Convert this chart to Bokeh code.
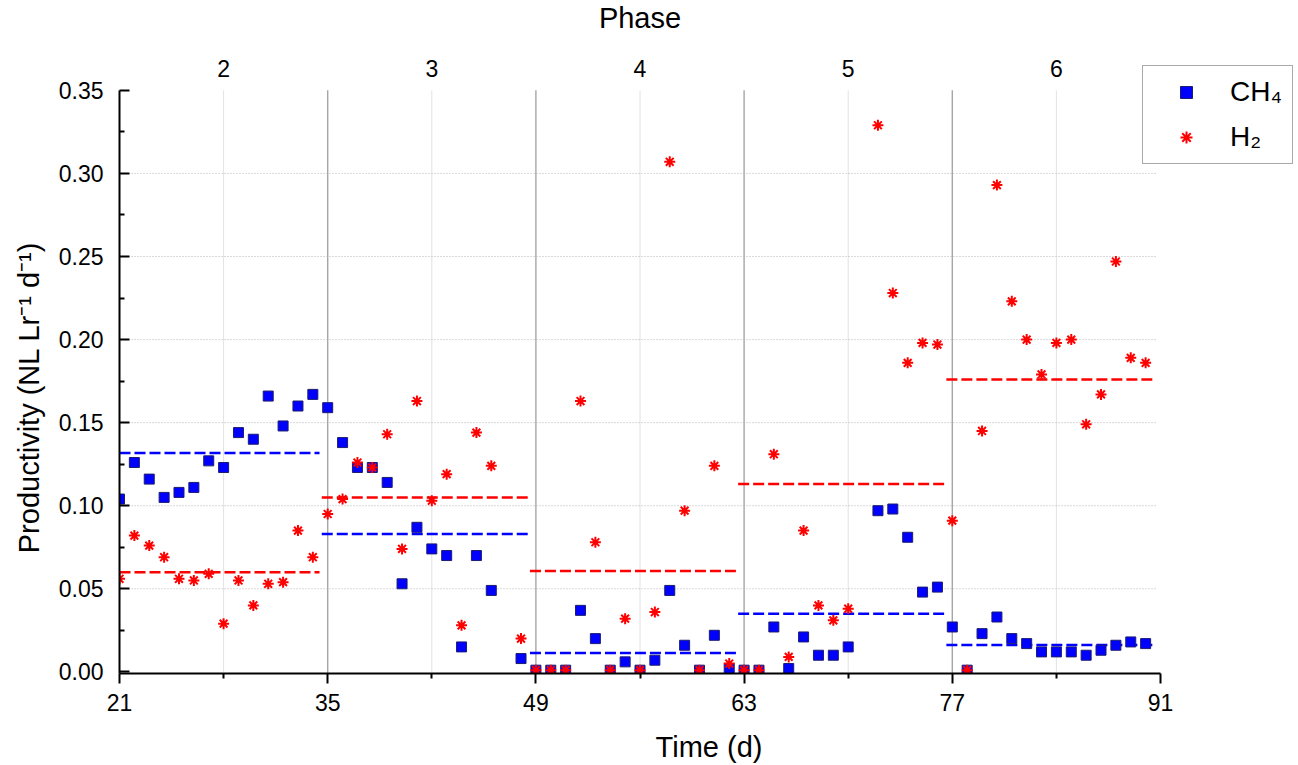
from bokeh.plotting import figure
from bokeh.models import (Range1d, FixedTicker, Legend, LegendItem,
                          PrintfTickFormatter, ColumnDataSource)
from bokeh.core.properties import value
from bokeh.embed import file_html
from bokeh.resources import INLINE

# ---------------- data ----------------
days = [21, 22, 23, 24, 25, 26, 27, 28, 29, 30, 31, 32, 33, 34,
        35, 36, 37, 38, 39, 40, 41, 42, 43, 44, 45, 46, 48,
        49, 50, 51, 52, 53, 54, 55, 56, 57, 58, 59, 60, 61, 62,
        63, 64, 65, 66, 67, 68, 69, 70, 72, 73, 74, 75, 76,
        77, 78, 79, 80, 81, 82, 83, 84, 85, 86, 87, 88, 89, 90]

ch4 = [0.104, 0.126, 0.116, 0.105, 0.108, 0.111, 0.127, 0.123, 0.144, 0.140, 0.166, 0.148, 0.160, 0.167,
       0.159, 0.138, 0.123, 0.123, 0.114, 0.053, 0.087, 0.074, 0.070, 0.015, 0.070, 0.049, 0.008,
       0.001, 0.001, 0.001, 0.037, 0.020, 0.001, 0.006, 0.001, 0.007, 0.049, 0.016, 0.001, 0.022, 0.002,
       0.001, 0.001, 0.027, 0.002, 0.021, 0.010, 0.010, 0.015, 0.097, 0.098, 0.081, 0.048, 0.051,
       0.027, 0.001, 0.023, 0.033, 0.020, 0.017, 0.012, 0.012, 0.012, 0.010, 0.013, 0.016, 0.018, 0.017]

h2 = [0.056, 0.082, 0.076, 0.069, 0.056, 0.055, 0.059, 0.029, 0.055, 0.040, 0.053, 0.054, 0.085, 0.069,
      0.095, 0.104, 0.126, 0.123, 0.143, 0.074, 0.163, 0.103, 0.119, 0.028, 0.144, 0.124, 0.020,
      0.001, 0.001, 0.001, 0.163, 0.078, 0.001, 0.032, 0.001, 0.036, 0.307, 0.097, 0.001, 0.124, 0.005,
      0.001, 0.001, 0.131, 0.009, 0.085, 0.040, 0.031, 0.038, 0.329, 0.228, 0.186, 0.198, 0.197,
      0.091, 0.001, 0.145, 0.293, 0.223, 0.200, 0.179, 0.198, 0.200, 0.149, 0.167, 0.247, 0.189, 0.186]

phase_title = "Phase"
phase_names = ["2", "3", "4", "5", "6"]
phase_start = [21, 35, 49, 63, 77]
ch4_mean = [0.1317, 0.083, 0.0114, 0.035, 0.0162]
h2_mean = [0.060, 0.105, 0.0607, 0.1131, 0.176]

x_ticks = [21, 35, 49, 63, 77, 91]
y_ticks = [0.00, 0.05, 0.10, 0.15, 0.20, 0.25, 0.30, 0.35]

x_title = "Time (d)"
y_title = "Productivity (NL Lr\u207b\u00b9 d\u207b\u00b9)"

# ---------------- layout (pixels) ----------------
FONT = "Liberation Sans"
W, H = 1298, 765
FL, FB = 119, 674            # frame left / bottom in figure pixels
AX_R, AX_T = 1160, 90        # where x=91 and y=0.35 fall
y_lo = -0.001
sx = (AX_R - FL) / (x_ticks[-1] - x_ticks[0])
sy = (FB - AX_T) / (y_ticks[-1] - y_lo)
x_end = x_ticks[0] + (W - FL) / sx
y_end = y_ticks[-1] + AX_T / sy

p = figure(width=W, height=H,
           x_range=Range1d(x_ticks[0], x_end), y_range=Range1d(y_lo, y_end),
           output_backend="svg", toolbar_location=None,
           min_border_left=FL, min_border_right=0,
           min_border_top=0, min_border_bottom=H - FB)
p.outline_line_color = None
p.background_fill_color = "white"
p.border_fill_color = "white"
p.xgrid.visible = False
p.ygrid.visible = False

phase_mid = [s + 7 for s in phase_start]
boundaries = phase_start[1:]
x_minor = [(a + b) / 2 for a, b in zip(x_ticks[:-1], x_ticks[1:])]
y_minor = [(a + b) / 2 for a, b in zip(y_ticks[:-1], y_ticks[1:])]

# grid lines (bounded to the data area)
p.segment(x0=phase_mid, x1=phase_mid, y0=[y_ticks[0]] * 5, y1=[y_ticks[-1]] * 5,
          line_color="#e2e2e2", line_width=1)
p.segment(x0=boundaries, x1=boundaries, y0=[y_lo] * 4, y1=[y_ticks[-1]] * 4,
          line_color="#a6a6a6", line_width=1.4)
hy = y_ticks[1:-1]
p.segment(x0=[x_ticks[0]] * len(hy), x1=[x_ticks[-1] - 0.2] * len(hy), y0=hy, y1=hy,
          line_color="#b4b4b4", line_width=1, line_dash="1 2")

# bottom axis
xa = p.xaxis[0]
xa.bounds = (x_ticks[0], x_ticks[-1])
xa.ticker = FixedTicker(ticks=x_ticks, minor_ticks=x_minor)
xa.axis_label = x_title
xa.axis_line_width = 2
xa.axis_line_color = "black"
xa.major_tick_out = 10
xa.major_tick_in = 0
xa.minor_tick_out = 5
xa.minor_tick_in = 0
xa.major_tick_line_width = 2
xa.minor_tick_line_width = 2
xa.major_label_text_font = FONT
xa.major_label_text_font_size = "23px"
xa.major_label_text_color = "black"
xa.major_label_text_line_height = 1.0
xa.major_label_standoff = 10
xa.axis_label_text_font = FONT
xa.axis_label_text_font_size = "29px"
xa.axis_label_text_font_style = "normal"
xa.axis_label_text_color = "black"
xa.axis_label_text_line_height = 1.0
xa.axis_label_standoff = 17

# left axis (label padded with no-break spaces so it sits centred on the data area)
ya = p.yaxis[0]
ya.bounds = (y_lo, y_ticks[-1])
ya.ticker = FixedTicker(ticks=y_ticks, minor_ticks=y_minor)
ya.formatter = PrintfTickFormatter(format="%.2f")
ya.axis_label = y_title + "\u00a0" * 15
ya.axis_line_width = 2
ya.axis_line_color = "black"
ya.major_tick_out = 0
ya.major_tick_in = 10
ya.minor_tick_out = 0
ya.minor_tick_in = 5
ya.major_tick_line_width = 2
ya.minor_tick_line_width = 2
ya.major_label_text_font = FONT
ya.major_label_text_font_size = "23px"
ya.major_label_text_color = "black"
ya.major_label_standoff = 16
ya.axis_label_text_font = FONT
ya.axis_label_text_font_size = "29px"
ya.axis_label_text_font_style = "normal"
ya.axis_label_text_color = "black"
ya.axis_label_standoff = 11

# phase header (text above the data area)
p.text(x=phase_mid, y=[y_ticks[-1]] * len(phase_mid), text=phase_names,
       text_font=value(FONT), text_font_size="23px", text_color="black",
       text_align="center", text_baseline="middle", y_offset=-22)
p.text(x=[(x_ticks[0] + x_ticks[-1]) / 2], y=[y_ticks[-1]], text=[phase_title],
       text_font=value(FONT), text_font_size="29px", text_color="black",
       text_align="center", text_baseline="middle", y_offset=-72)

# mean lines per phase
x0 = [max(x_ticks[0], s - 0.4) for s in phase_start]
x1 = [s + 13.45 for s in phase_start]
src_mean = ColumnDataSource(dict(x0=x0, x1=x1, ch4=ch4_mean, h2=h2_mean))
p.segment(x0="x0", x1="x1", y0="ch4", y1="ch4", source=src_mean,
          line_color="#0000ff", line_width=2.5, line_dash="11 4")
p.segment(x0="x0", x1="x1", y0="h2", y1="h2", source=src_mean,
          line_color="#ff0000", line_width=2.5, line_dash="11 4")

# points
src = ColumnDataSource(dict(d=days, ch4=ch4, h2=h2))
r_ch4 = p.scatter("d", "ch4", source=src, marker="square", size=10,
                  fill_color="#0000ff", line_color="#1c1c70", line_width=1)
r_h2 = p.scatter("d", "h2", source=src, marker="asterisk", size=11,
                 line_color="#ff0000", line_width=2)

# legend
legend = Legend(items=[LegendItem(label="CH\u2084", renderers=[r_ch4]),
                       LegendItem(label="H\u2082", renderers=[r_h2])],
                location=(1142 - FL, FB - 165))
legend.label_text_font = FONT
legend.label_text_font_size = "28px"
legend.label_text_color = "black"
legend.padding = 10
legend.glyph_width = 66
legend.glyph_height = 30
legend.spacing = 13
legend.label_standoff = 11
legend.label_height = 30
legend.border_line_color = "#555555"
legend.border_line_width = 1.5
legend.background_fill_color = "white"
legend.background_fill_alpha = 1.0
legend.margin = 0
p.add_layout(legend, "center")

open("out.html", "w").write(file_html(p, INLINE))
